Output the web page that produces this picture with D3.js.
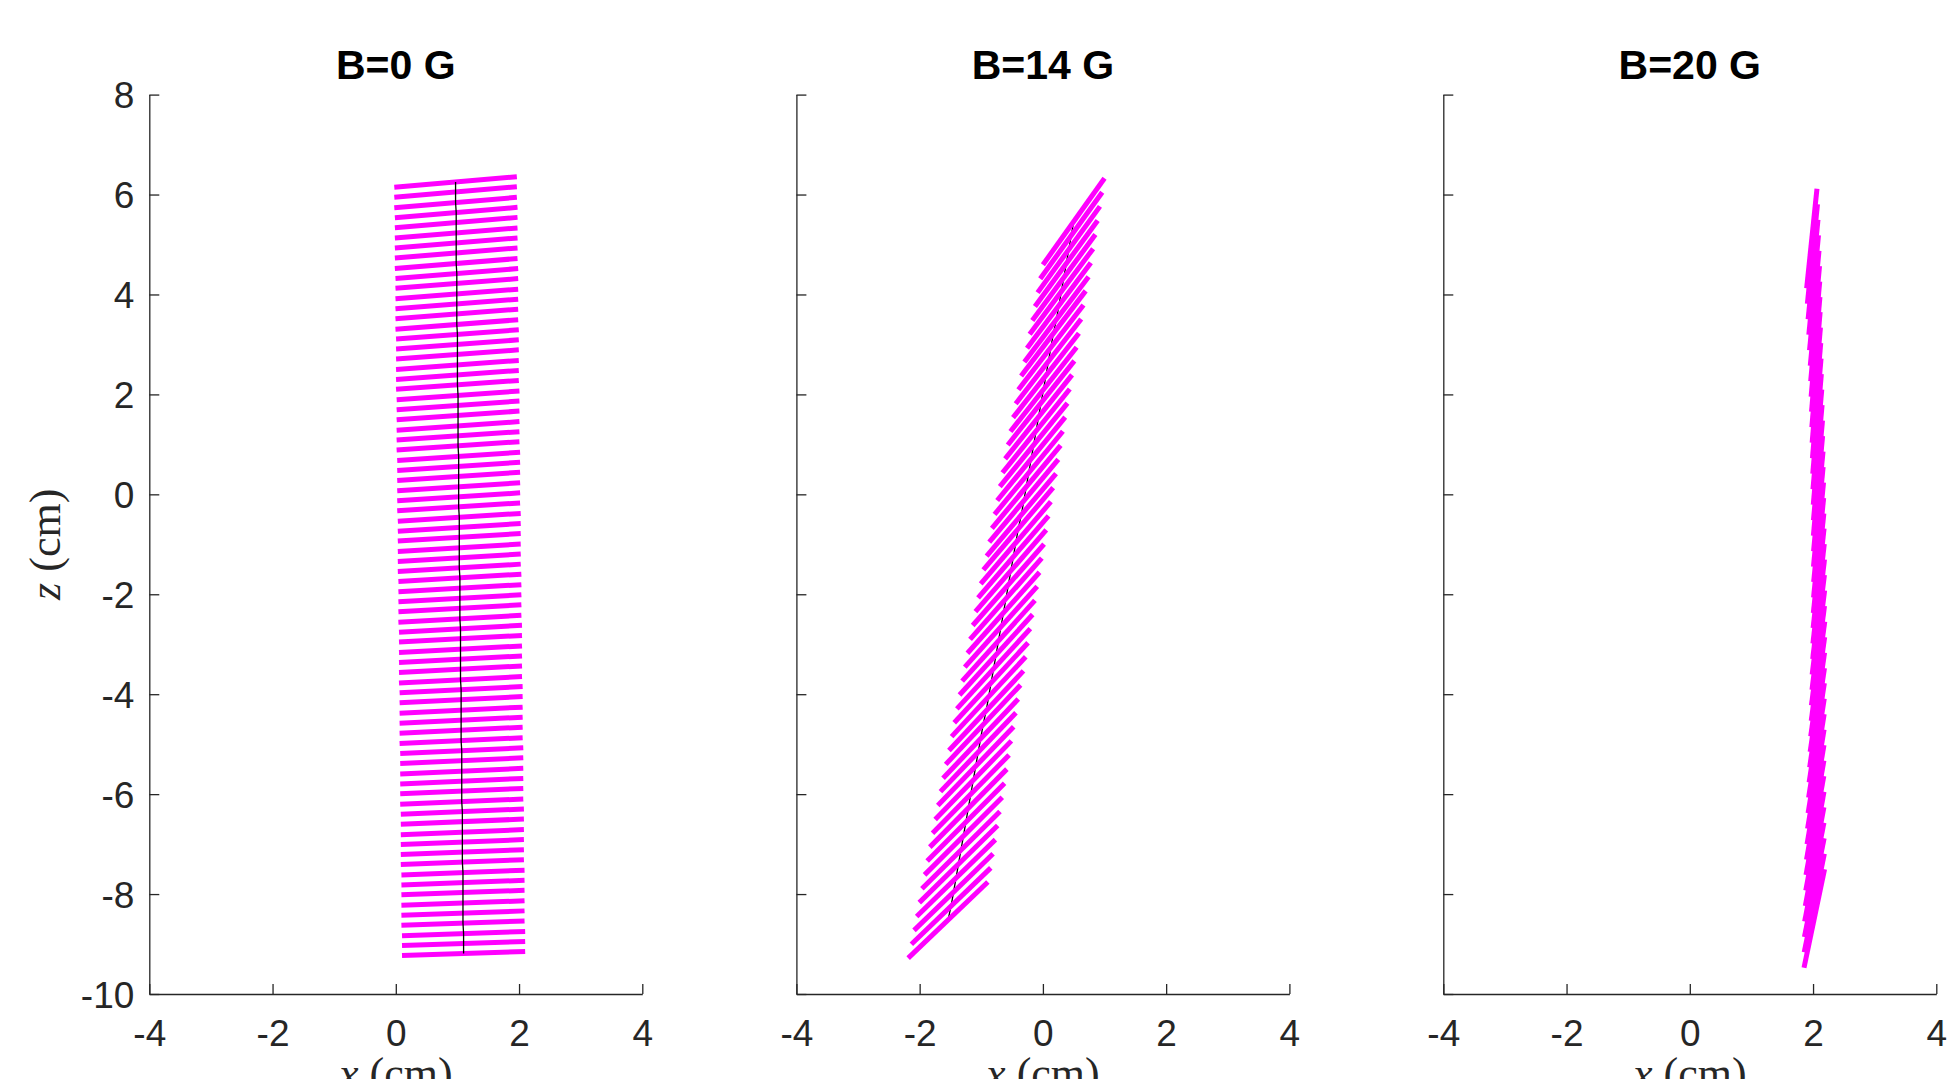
<!DOCTYPE html>
<html><head><meta charset="utf-8">
<script src="https://cdn.jsdelivr.net/npm/d3@7"></script>
<style>html,body{margin:0;padding:0;background:#fff}svg{display:block}</style>
</head><body>
<svg id="chart" width="1951" height="1079"></svg>
<script>
// ---------- data ----------
const panelTitles = ["B=0 G", "B=14 G", "B=20 G"];
const xTickValues = [-4, -2, 0, 2, 4];
const zTickValues = [8, 6, 4, 2, 0, -2, -4, -6, -8, -10];
const xLabelText = "x";
const zLabelText = "z";
const unitText = "(cm)";
const segmentLength = 2; // cm

// Panel 1 (B=0 G): segment centres and tilt (deg)
const p1CenterZ = [6.25,6.05,5.84,5.64,5.44,5.23,5.03,4.83,4.62,4.42,4.22,4.01,3.81,3.61,3.40,3.20,3.00,2.80,2.59,2.39,
  2.19,1.98,1.78,1.58,1.37,1.17,0.97,0.76,0.56,0.36,0.15,-0.05,-0.25,-0.46,-0.66,-0.86,-1.07,-1.27,-1.47,-1.67,
  -1.88,-2.08,-2.28,-2.49,-2.69,-2.89,-3.10,-3.30,-3.50,-3.71,-3.91,-4.11,-4.32,-4.52,-4.72,-4.93,-5.13,-5.33,-5.54,-5.74,
  -5.94,-6.15,-6.35,-6.55,-6.76,-6.96,-7.16,-7.36,-7.57,-7.77,-7.97,-8.18,-8.38,-8.58,-8.79,-8.99,-9.19];
const p1CenterX = [0.97,0.97,0.97,0.98,0.98,0.98,0.98,0.98,0.98,0.99,0.99,0.99,0.99,0.99,0.99,1.00,1.00,1.00,1.00,1.00,
  1.00,1.01,1.01,1.01,1.01,1.01,1.01,1.02,1.02,1.02,1.02,1.02,1.02,1.03,1.03,1.03,1.03,1.03,1.03,1.04,
  1.04,1.04,1.04,1.04,1.05,1.05,1.05,1.05,1.05,1.05,1.06,1.06,1.06,1.06,1.06,1.06,1.07,1.07,1.07,1.07,
  1.07,1.07,1.08,1.08,1.08,1.08,1.08,1.08,1.09,1.09,1.09,1.09,1.09,1.09,1.10,1.10,1.10];
const p1Angle = [6.10,6.05,6.00,5.95,5.90,5.85,5.80,5.75,5.70,5.65,5.60,5.55,5.50,5.45,5.40,5.35,5.30,5.25,5.20,5.15,
  5.10,5.05,5.00,4.95,4.90,4.85,4.80,4.75,4.70,4.65,4.60,4.55,4.50,4.45,4.40,4.35,4.30,4.25,4.20,4.15,
  4.10,4.05,4.00,3.95,3.90,3.85,3.80,3.75,3.70,3.65,3.60,3.55,3.50,3.45,3.40,3.35,3.30,3.25,3.20,3.15,
  3.10,3.05,3.00,2.95,2.90,2.85,2.80,2.75,2.70,2.65,2.60,2.55,2.50,2.45,2.40,2.35,2.30];

// Panel 2 (B=14 G)
const p2CenterZ = [5.46,5.18,4.90,4.62,4.34,4.06,3.78,3.50,3.22,2.94,2.66,2.38,2.10,1.83,1.55,1.27,0.99,0.71,0.43,0.15,
  -0.13,-0.41,-0.69,-0.97,-1.25,-1.53,-1.81,-2.09,-2.37,-2.65,-2.93,-3.21,-3.49,-3.77,-4.05,-4.33,-4.61,-4.89,-5.16,-5.44,
  -5.72,-6.00,-6.28,-6.56,-6.84,-7.12,-7.40,-7.68,-7.96,-8.24,-8.52];
const p2CenterX = [0.50,0.46,0.42,0.38,0.34,0.30,0.26,0.22,0.17,0.13,0.09,0.05,0.01,-0.03,-0.07,-0.11,-0.15,-0.19,-0.23,-0.27,
  -0.31,-0.35,-0.40,-0.44,-0.48,-0.52,-0.56,-0.60,-0.64,-0.68,-0.72,-0.76,-0.80,-0.84,-0.88,-0.92,-0.97,-1.01,-1.05,-1.09,
  -1.13,-1.17,-1.21,-1.25,-1.29,-1.33,-1.37,-1.41,-1.45,-1.49,-1.54];
const p2Angle = [60.0,59.8,59.6,59.4,59.2,59.0,58.8,58.6,58.4,58.1,57.9,57.7,57.5,57.3,57.1,56.9,56.7,56.5,56.3,56.1,
  55.9,55.7,55.5,55.3,55.1,54.9,54.6,54.4,54.2,54.0,53.8,53.6,53.4,53.2,53.0,52.8,52.6,52.4,52.2,52.0,
  51.8,51.6,51.3,51.1,50.9,50.7,50.5,50.3,50.1,49.9,49.7];

// Panel 3 (B=20 G)
const p3CenterZ = [5.12,4.81,4.50,4.19,3.88,3.57,3.26,2.95,2.65,2.34,2.03,1.72,1.41,1.10,0.79,0.48,0.17,-0.14,-0.45,-0.76,
  -1.07,-1.38,-1.68,-1.99,-2.30,-2.61,-2.92,-3.23,-3.54,-3.85,-4.16,-4.47,-4.77,-5.08,-5.39,-5.70,-6.01,-6.32,-6.63,-6.94,
  -7.25,-7.56,-7.87,-8.18,-8.49];
const p3CenterX = [1.98,1.99,2.00,2.01,2.02,2.03,2.035,2.04,2.045,2.05,2.055,2.06,2.065,2.07,2.075,2.08,2.08,2.085,2.085,2.09,
  2.09,2.09,2.09,2.09,2.09,2.085,2.085,2.08,2.08,2.075,2.07,2.065,2.06,2.055,2.05,2.045,2.04,2.035,2.03,2.03,
  2.025,2.02,2.02,2.02,2.02];
const p3Angle = [85.2,85.3,85.4,85.5,85.6,85.7,85.8,85.9,86.0,86.0,86.0,86.0,86.0,85.9,85.9,85.8,85.7,85.6,85.5,85.4,
  85.3,85.1,84.9,84.7,84.5,84.3,84.1,83.9,83.7,83.5,83.3,83.1,82.9,82.7,82.5,82.3,82.1,81.9,81.7,81.5,
  81.3,81.0,80.8,80.6,80.4];

// ---------- layout ----------
const panels = [
  {title: panelTitles[0], cx: p1CenterX, cz: p1CenterZ, ang: p1Angle, axisLineOnTop: true,  showZLabels: true},
  {title: panelTitles[1], cx: p2CenterX, cz: p2CenterZ, ang: p2Angle, axisLineOnTop: false, showZLabels: false},
  {title: panelTitles[2], cx: p3CenterX, cz: p3CenterZ, ang: p3Angle, axisLineOnTop: false, showZLabels: false}
];
const panelLefts = [149.3, 796.4, 1443.3];
const panelWidth = 493;
const plotTop = 94.6, plotBottom = 994;
const axisColor = "#262626";
const sansFont = "'Liberation Sans', Arial, Helvetica, sans-serif";
const serifFont = "'Liberation Serif', 'Times New Roman', serif";
const plainNumber = d => String(d);

const svg = d3.select("#chart");
const zScale = d3.scaleLinear().domain([-10, 8]).range([plotBottom, plotTop]);
const rad = d => d * Math.PI / 180;
const half = segmentLength / 2;

panels.forEach((p, k) => {
  const left = panelLefts[k];
  const xScale = d3.scaleLinear().domain([-4, 4]).range([left, left + panelWidth]);
  const g = svg.append("g");
  const idx = d3.range(p.cz.length);

  const centreLine = d3.line().x(i => xScale(p.cx[i])).y(i => zScale(p.cz[i]));
  const drawCentre = () => g.append("path").datum(idx).attr("d", centreLine)
      .attr("fill", "none").attr("stroke", "#000").attr("stroke-width", 1.3);

  if (!p.axisLineOnTop) drawCentre();

  g.append("g").selectAll("line").data(idx).join("line")
    .attr("x1", i => xScale(p.cx[i] - half * Math.cos(rad(p.ang[i]))))
    .attr("y1", i => zScale(p.cz[i] - half * Math.sin(rad(p.ang[i]))))
    .attr("x2", i => xScale(p.cx[i] + half * Math.cos(rad(p.ang[i]))))
    .attr("y2", i => zScale(p.cz[i] + half * Math.sin(rad(p.ang[i]))))
    .attr("stroke", "#ff00ff").attr("stroke-width", 5).attr("stroke-linecap", "butt");

  if (p.axisLineOnTop) drawCentre();

  // axes
  const yAxis = d3.axisLeft(zScale).tickValues(zTickValues).tickSizeInner(-10).tickSizeOuter(0).tickPadding(15)
    .tickFormat(p.showZLabels ? plainNumber : () => "");
  const ya = g.append("g").attr("transform", `translate(${left},0)`).call(yAxis);
  const xAxis = d3.axisBottom(xScale).tickValues(xTickValues).tickSizeInner(-10).tickSizeOuter(0).tickPadding(25)
    .tickFormat(plainNumber);
  const xa = g.append("g").attr("transform", `translate(0,${plotBottom})`).call(xAxis);
  [ya, xa].forEach(a => {
    a.selectAll("path.domain").attr("stroke", axisColor).attr("stroke-width", 1.3);
    a.selectAll(".tick line").attr("stroke", axisColor).attr("stroke-width", 1.3);
    a.selectAll(".tick text").attr("fill", axisColor).style("font-family", sansFont).style("font-size", "37px");
  });
  ya.selectAll(".tick text").attr("dy", "0.36em");
  xa.selectAll(".tick text").attr("dy", "0.72em");

  // title
  g.append("text").attr("x", left + panelWidth / 2).attr("y", 79)
    .attr("text-anchor", "middle").style("font-family", sansFont).style("font-size", "41px")
    .style("font-weight", "bold").attr("fill", "#000").text(p.title);

  // x label
  const xl = g.append("text").attr("x", left + panelWidth / 2).attr("y", 1088)
    .attr("text-anchor", "middle").style("font-family", serifFont).style("font-size", "44px").attr("fill", axisColor);
  xl.append("tspan").style("font-style", "italic").text(xLabelText);
  xl.append("tspan").text(" " + unitText);
});

// z label
const zl = svg.append("text").attr("transform", `translate(60,${(plotTop + plotBottom) / 2}) rotate(-90)`)
  .attr("text-anchor", "middle").style("font-family", serifFont).style("font-size", "44px").attr("fill", axisColor);
zl.append("tspan").style("font-style", "italic").text(zLabelText);
zl.append("tspan").text(" " + unitText);
</script>
</body></html>
